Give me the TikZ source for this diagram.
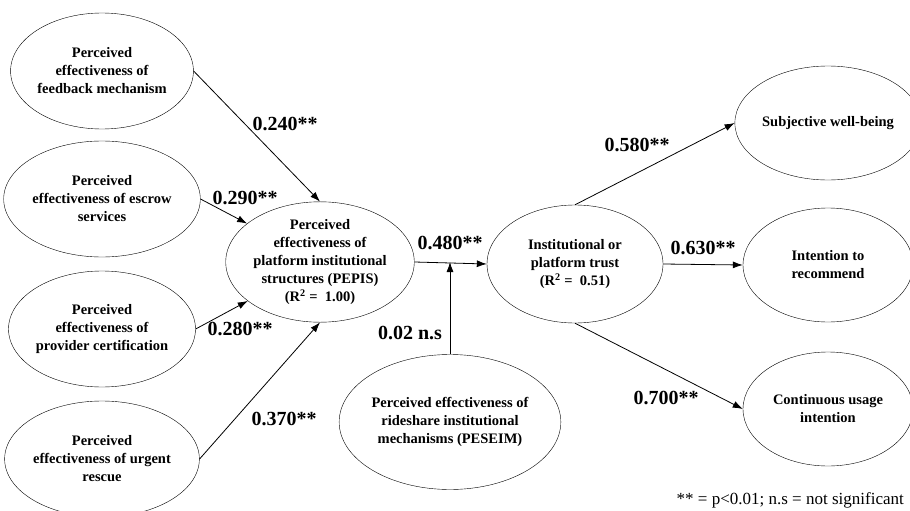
\documentclass[tikz,border=0pt]{standalone}
\usepackage{fontspec}
\setmainfont{Liberation Serif}
\usetikzlibrary{shapes.geometric, positioning, arrows.meta, calc}

\begin{document}
\begin{tikzpicture}[
    x=1pt, y=-1pt,
    construct/.style={ellipse, draw, thin, inner sep=0pt, align=center, font=\fontsize{14.5}{18}\selectfont\bfseries},
    left_box/.style={construct, minimum width=180pt, minimum height=116pt},
    mid_box/.style={construct, minimum width=176pt, minimum height=120pt},
    right_box/.style={construct, minimum width=170pt, minimum height=114pt},
    coef/.style={font=\fontsize{20}{22}\selectfont\bfseries, inner sep=1pt},
    arrow/.style={-{Latex[length=10pt, width=7pt]}, line width=0.8pt},
    line/.style={line width=0.8pt},
]
\useasboundingbox (0,0) rectangle (910,511);

%% NODES
    % antecedents
    \node[left_box] (feedback) at (102,71) {Perceived\\effectiveness of\\feedback mechanism};
    \node[left_box] (escrow) at (102,199) {Perceived\\effectiveness of escrow\\services};
    \node[left_box] (provider) at (102,329) {Perceived\\effectiveness of\\provider certification};
    \node[left_box] (urgent) at (102,459) {Perceived\\effectiveness of urgent\\rescue};

    % mediators
    \node[mid_box] (pepis) at (320,262) {Perceived\\effectiveness of\\platform institutional\\structures (PEPIS)\\(R\textsuperscript{2} =\ \ 1.00)};
    \node[mid_box, minimum height=118pt] (trust) at (575,264) {Institutional or\\platform trust\\(R\textsuperscript{2} =\ \ 0.51)};

    % moderator
    \node[construct, minimum width=205pt, minimum height=135pt] (peseim) at (450,422) {Perceived effectiveness of\\rideshare institutional\\mechanisms (PESEIM)};

    % outcomes
    \node[right_box] (wellbeing) at (828,123) {Subjective well-being};
    \node[right_box] (recommend) at (828,265) {Intention to\\recommend};
    \node[right_box] (usage) at (828,409) {Continuous usage\\intention};

    % path coefficients
    \node[coef] (c_feedback) at (285,124) {0.240**};
    \node[coef] (c_escrow) at (245,198) {0.290**};
    \node[coef] (c_provider) at (240,329) {0.280**};
    \node[coef] (c_urgent) at (284,419) {0.370**};
    \node[coef] (c_trust) at (450,243) {0.480**};
    \node[coef] (c_peseim) at (410,333) {0.02 n.s};
    \node[coef] (c_wellbeing) at (637,145) {0.580**};
    \node[coef] (c_recommend) at (703,248) {0.630**};
    \node[coef] (c_usage) at (666,398) {0.700**};

    % note
    \node[font=\fontsize{17}{19}\selectfont, anchor=east, inner sep=0pt] (note) at (904,500) {** = p<0.01; n.s = not significant};

%% CONNECTIONS
    % antecedents -> PEPIS
    \draw[arrow] (feedback.east) -- (pepis.north);
    \draw[arrow] (escrow.east) -- (pepis);
    \draw[arrow] (provider.east) -- (pepis);
    \draw[arrow] (urgent.east) -- (pepis.south);

    % PEPIS -> trust
    \draw[arrow] (pepis.east) -- (trust.west);

    % PESEIM -> path
    \coordinate (junction) at (peseim.north |- pepis.east);
    \draw[arrow] (peseim.north) -- (junction);

    % trust -> outcomes
    \draw[arrow] (trust.north) -- (wellbeing.west);
    \draw[arrow] (trust.east) -- (recommend.west);
    \draw[arrow] (trust.south) -- (usage.west);

\end{tikzpicture}
\end{document}
